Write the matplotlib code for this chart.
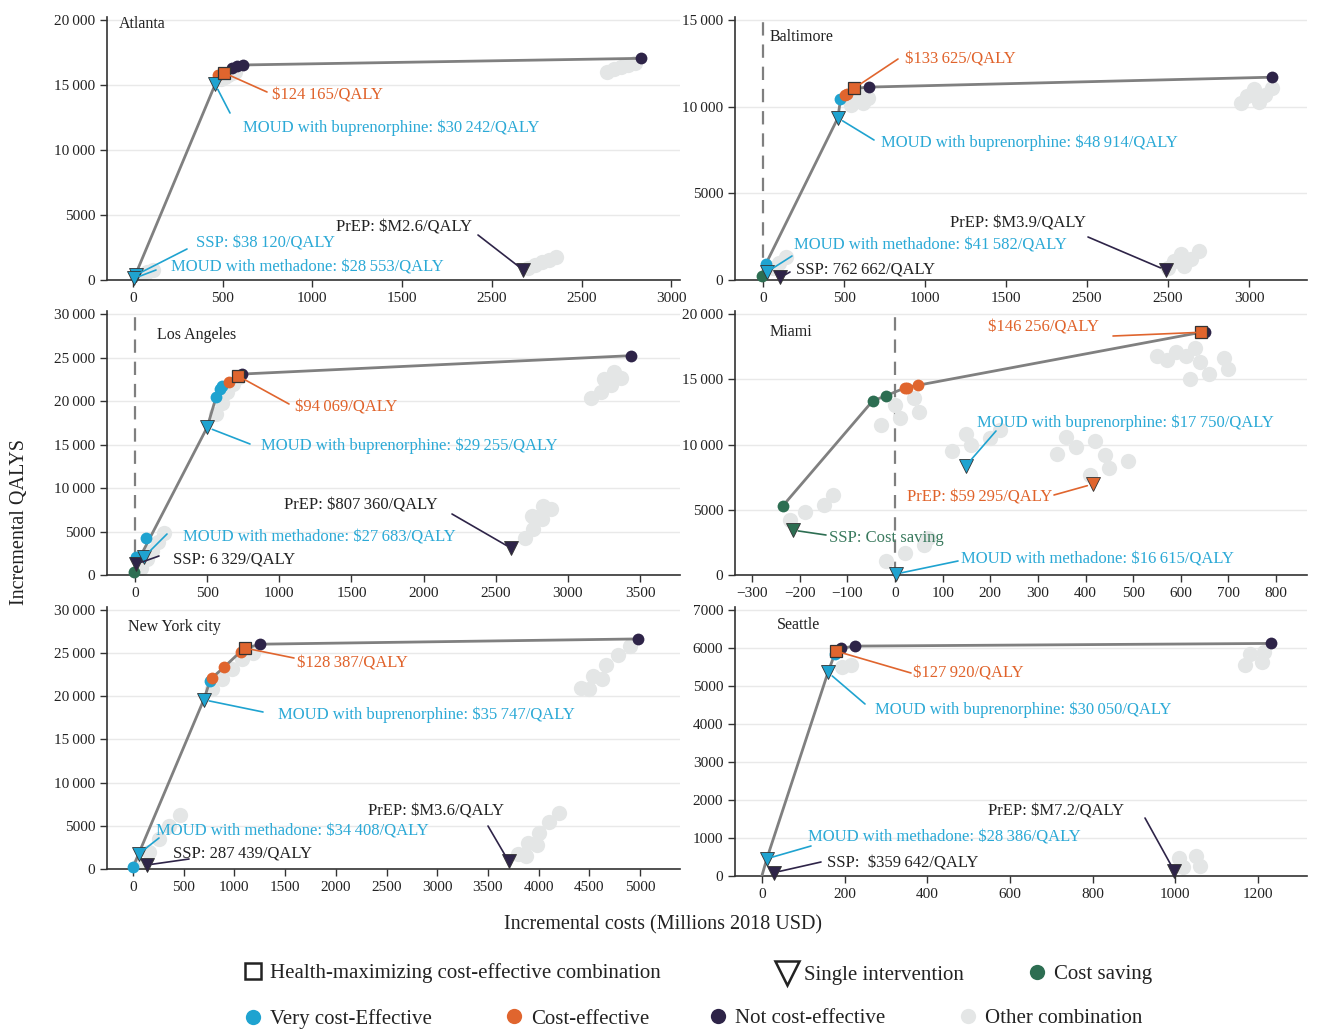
import matplotlib
matplotlib.use("Agg")
import matplotlib.pyplot as plt
from matplotlib.lines import Line2D

plt.rcParams['font.family'] = ['Liberation Serif', 'DejaVu Serif']

W, H = 1319, 1030
COL = {'vce': '#1FA3D0', 'ce': '#E0652E', 'nce': '#2E2448', 'cs': '#2D6E52', 'oth': '#E4E6E6'}
TXT = {'vce': '#2BA9D6', 'ce': '#E0622A', 'nce': '#222222', 'cs': '#3A7A5E'}

# ---------------- DATA ----------------
# Atlanta
ATL_LINE_X = [0, 5, 458, 474, 505, 550, 581, 612, 2833]
ATL_LINE_Y = [0, 120, 15050, 15770, 15950, 16280, 16490, 16540, 17050]
ATL_PT_X = [474, 550, 581, 612, 2833]
ATL_PT_Y = [15770, 16280, 16490, 16540, 17050]
ATL_PT_CAT = ['ce', 'nce', 'nce', 'nce', 'nce']
ATL_HM = (505, 15950)
ATL_SINGLE_X = [15, 5, 458, 2175]
ATL_SINGLE_Y = [380, 120, 15050, 770]
ATL_SINGLE_CAT = ['vce', 'vce', 'vce', 'nce']
ATL_OTH_X = [490, 510, 530, 550, 570, 2640, 2680, 2720, 2760, 2800, 2200, 2240, 2280, 2320, 2360, 20, 50, 80, 110]
ATL_OTH_Y = [15450, 15600, 15750, 15900, 16000, 16000, 16200, 16400, 16550, 16700, 950, 1150, 1350, 1550, 1750, 200, 400, 600, 800]

# Baltimore
BAL_LINE_X = [-5, 16, 462, 478, 503, 519, 560, 656, 3141]
BAL_LINE_Y = [250, 900, 9350, 10420, 10650, 10750, 11050, 11130, 11700]
BAL_PT_X = [-5, 16, 478, 503, 519, 656, 3141]
BAL_PT_Y = [250, 900, 10420, 10650, 10750, 11130, 11700]
BAL_PT_CAT = ['cs', 'vce', 'vce', 'ce', 'ce', 'nce', 'nce']
BAL_HM = (560, 11050)
BAL_SINGLE_X = [107, 27, 462, 2485]
BAL_SINGLE_Y = [150, 480, 9350, 575]
BAL_SINGLE_CAT = ['nce', 'vce', 'vce', 'nce']
BAL_OTH_X = [540, 570, 600, 620, 650, 2950, 2990, 3030, 3060, 3100, 3140, 2500, 2540, 2580, 2600, 2640, 2690, 60, 100, 140]
BAL_OTH_Y = [10100, 10400, 10700, 10200, 10500, 10200, 10600, 11000, 10250, 10650, 11050, 700, 1100, 1500, 800, 1200, 1700, 700, 1000, 1300]

# Los Angeles
LA_LINE_X = [-8, 10, 500, 562, 587, 603, 651, 715, 744, 3436]
LA_LINE_Y = [400, 1260, 16970, 20450, 21360, 21740, 22220, 22870, 23100, 25210]
LA_PT_X = [-8, 5, 74, 562, 587, 603, 651, 744, 3436]
LA_PT_Y = [400, 2100, 4210, 20450, 21360, 21740, 22220, 23100, 25210]
LA_PT_CAT = ['cs', 'vce', 'vce', 'vce', 'vce', 'vce', 'ce', 'nce', 'nce']
LA_HM = (715, 22870)
LA_SINGLE_X = [10, 64, 500, 2608]
LA_SINGLE_Y = [1260, 2100, 16970, 3070]
LA_SINGLE_CAT = ['nce', 'vce', 'vce', 'nce']
LA_OTH_X = [560, 600, 640, 680, 720, 3160, 3230, 3300, 3370, 3250, 3320, 2700, 2760, 2820, 2880, 2750, 2830, 40, 80, 120, 160, 200]
LA_OTH_Y = [18500, 19800, 21000, 22000, 22800, 20300, 21000, 21800, 22600, 22500, 23300, 4300, 5300, 6400, 7600, 6800, 7900, 800, 1800, 2800, 3800, 4800]

# Miami
MIA_LINE_X = [-236, -47, -18, 21, 48, 643]
MIA_LINE_Y = [5280, 13340, 13750, 14340, 14540, 18600]
MIA_PT_X = [-236, -47, -18, 21, 25, 48, 651]
MIA_PT_Y = [5280, 13340, 13750, 14340, 14340, 14540, 18650]
MIA_PT_CAT = ['cs', 'cs', 'cs', 'ce', 'ce', 'ce', 'nce']
MIA_HM = (643, 18600)
MIA_SINGLE_X = [-215, 2, 148, 415]
MIA_SINGLE_Y = [3440, 80, 8340, 6960]
MIA_SINGLE_CAT = ['cs', 'vce', 'vce', 'ce']
MIA_OTH_X = [550, 590, 630, 570, 610, 620, 660, 700, 640, 690, -30, 10, 50, 0, 40,
             120, 160, 200, 150, 220, 340, 380, 420, 360, 410, 450, 490, 440,
             -220, -190, -150, -130, -20, 20, 60, 70]
MIA_OTH_Y = [16800, 17100, 17400, 16500, 16800, 15000, 15400, 15800, 16300, 16600, 11500, 12000, 12500, 13000, 13600,
             9500, 10000, 10500, 10800, 11100, 9300, 9800, 10300, 10600, 7700, 8200, 8700, 9200,
             4200, 4800, 5400, 6100, 1100, 1700, 2300, 2800]

# New York city
NY_LINE_X = [0, 55, 698, 760, 778, 898, 1062, 1109, 1255, 4982]
NY_LINE_Y = [190, 1730, 19600, 21800, 22120, 23380, 25190, 25580, 26040, 26650]
NY_PT_X = [0, 760, 778, 898, 1062, 1255, 4982]
NY_PT_Y = [190, 21800, 22120, 23380, 25190, 26040, 26650]
NY_PT_CAT = ['vce', 'vce', 'ce', 'ce', 'ce', 'nce', 'nce']
NY_HM = (1109, 25580)
NY_SINGLE_X = [135, 55, 698, 3705]
NY_SINGLE_Y = [460, 1730, 19600, 880]
NY_SINGLE_CAT = ['nce', 'vce', 'vce', 'nce']
NY_OTH_X = [780, 880, 980, 1080, 1180, 4420, 4540, 4660, 4780, 4900, 4500, 4620,
            3800, 3900, 4000, 4100, 4200, 3880, 3980, 60, 160, 260, 360, 460]
NY_OTH_Y = [20800, 22000, 23200, 24300, 25000, 21000, 22300, 23600, 24800, 25800, 20800, 22000,
            1700, 3000, 4200, 5400, 6500, 1500, 2800, 500, 2000, 3500, 5000, 6300]

# Seattle
SEA_LINE_X = [0, 12, 160, 176, 179, 191, 225, 1231]
SEA_LINE_Y = [0, 455, 5360, 5835, 5920, 5990, 6050, 6120]
SEA_PT_X = [176, 191, 225, 1231]
SEA_PT_Y = [5835, 5990, 6050, 6120]
SEA_PT_CAT = ['vce', 'nce', 'nce', 'nce']
SEA_HM = (179, 5920)
SEA_SINGLE_X = [30, 12, 160, 998]
SEA_SINGLE_Y = [90, 455, 5360, 130]
SEA_SINGLE_CAT = ['nce', 'vce', 'vce', 'nce']
SEA_OTH_X = [195, 215, 1180, 1215, 1170, 1210, 1010, 1050, 1020, 1060]
SEA_OTH_Y = [5500, 5560, 5850, 5900, 5560, 5620, 480, 530, 230, 270]

ATL_LABELS = ['$124\u2009165/QALY', 'MOUD with buprenorphine: $30\u2009242/QALY', 'SSP: $38\u2009120/QALY',
              'MOUD with methadone: $28\u2009553/QALY', 'PrEP: $M2.6/QALY']
BAL_LABELS = ['$133\u2009625/QALY', 'MOUD with buprenorphine: $48\u2009914/QALY', 'PrEP: $M3.9/QALY',
              'MOUD with methadone: $41\u2009582/QALY', 'SSP: 762\u2009662/QALY']
LA_LABELS = ['$94\u2009069/QALY', 'MOUD with buprenorphine: $29\u2009255/QALY', 'PrEP: $807\u2009360/QALY',
             'MOUD with methadone: $27\u2009683/QALY', 'SSP: 6\u2009329/QALY']
MIA_LABELS = ['$146\u2009256/QALY', 'MOUD with buprenorphine: $17\u2009750/QALY', 'PrEP: $59\u2009295/QALY',
              'SSP: Cost saving', 'MOUD with methadone: $16\u2009615/QALY']
NY_LABELS = ['$128\u2009387/QALY', 'MOUD with buprenorphine: $35\u2009747/QALY', 'PrEP: $M3.6/QALY',
             'MOUD with methadone: $34\u2009408/QALY', 'SSP: 287\u2009439/QALY']
SEA_LABELS = ['$127\u2009920/QALY', 'MOUD with buprenorphine: $30\u2009050/QALY', 'PrEP: $M7.2/QALY',
              'MOUD with methadone: $28\u2009386/QALY', 'SSP:  $359\u2009642/QALY']

XTICKS_ATL = [0, 500, 1000, 1500, 2000, 2500, 3000]
XTICKLABELS_ATL = ['0', '500', '1000', '1500', '2500', '2500', '3000']
XTICKS_LA = [0, 500, 1000, 1500, 2000, 2500, 3000, 3500]
XTICKS_MIA = [-300, -200, -100, 0, 100, 200, 300, 400, 500, 600, 700, 800]
XTICKS_NY = [0, 500, 1000, 1500, 2000, 2500, 3000, 3500, 4000, 4500, 5000]
XTICKS_SEA = [0, 200, 400, 600, 800, 1000, 1200]
YTICKS_20K = [0, 5000, 10000, 15000, 20000]
YTICKS_15K = [0, 5000, 10000, 15000]
YTICKS_30K = [0, 5000, 10000, 15000, 20000, 25000, 30000]
YTICKS_7K = [0, 1000, 2000, 3000, 4000, 5000, 6000, 7000]


def fmt(v):
    s = str(abs(int(v)))
    if len(s) >= 5:
        s = s[:-3] + '\u2009' + s[-3:]
    return ('\u2212' + s) if v < 0 else s


fig = plt.figure(figsize=(W / 100, H / 100), dpi=100)


def make_ax(l, t, r, b):
    return fig.add_axes([l / W, 1 - b / H, (r - l) / W, (b - t) / H])


def fp(x, y):
    return (x / W, 1 - y / H)


def panel(ax, name, name_px, line_x, line_y, pt_x, pt_y, pt_cat, hm, sx, sy, scat, ox, oy,
          xlim, ylim, xticks, xticklabels, yticks, dashed, labels, label_px, label_cat, label_target, leader_px):
    ax.set_xlim(*xlim)
    ax.set_ylim(*ylim)
    for s in ['top', 'right']:
        ax.spines[s].set_visible(False)
    for s in ['left', 'bottom']:
        ax.spines[s].set_color('#333333')
        ax.spines[s].set_linewidth(1.2)
    ax.set_yticks(yticks)
    ax.set_yticklabels([fmt(v) for v in yticks])
    ax.set_xticks(xticks)
    ax.set_xticklabels(xticklabels if xticklabels else [fmt(v) for v in xticks])
    ax.tick_params(labelsize=11, length=5, width=1, color='#333333', labelcolor='#222222')
    ax.grid(axis='y', color='#E9E9E9', lw=1)
    ax.set_axisbelow(True)
    if dashed:
        ax.axvline(0, color='#7F7F7F', lw=1.6, ls=(0, (6, 4)), zorder=1)
    ax.plot(ox, oy, 'o', ms=11, color=COL['oth'], mec='none', zorder=2)
    ax.plot(line_x, line_y, '-', color='#808080', lw=2, zorder=3)
    for x, y, c in zip(pt_x, pt_y, pt_cat):
        ax.plot(x, y, 'o', ms=8.5, color=COL[c], mec='none', zorder=4, clip_on=False)
    for x, y, c in zip(sx, sy, scat):
        ax.plot(x, y, 'v', ms=10.5, color=COL[c], mec='#333333', mew=0.6, zorder=5, clip_on=False)
    ax.plot(hm[0], hm[1], 's', ms=8, color=COL['ce'], mec='#333333', mew=0.9, zorder=6)
    fig.text(*fp(*name_px), name, fontsize=11.5, color='#222222', va='center', ha='left')
    for lab, lp, lc, tgt, ld in zip(labels, label_px, label_cat, label_target, leader_px):
        fig.text(*fp(*lp), lab, fontsize=12, color=TXT[lc], va='center', ha='left')
        lcol = COL[lc]
        ax.annotate('', xy=tgt, xycoords='data', xytext=fp(*ld), textcoords='figure fraction',
                    arrowprops=dict(arrowstyle='-', color=lcol, lw=1.2, shrinkA=0, shrinkB=4), zorder=7)


# Atlanta
ax = make_ax(107, 17, 680, 280)
panel(ax, 'Atlanta', (119, 24), ATL_LINE_X, ATL_LINE_Y, ATL_PT_X, ATL_PT_Y, ATL_PT_CAT, ATL_HM,
      ATL_SINGLE_X, ATL_SINGLE_Y, ATL_SINGLE_CAT, ATL_OTH_X, ATL_OTH_Y,
      (-145, 3049), (0, 20230), XTICKS_ATL, XTICKLABELS_ATL, YTICKS_20K, False,
      ATL_LABELS, [(272, 96), (243, 128), (196, 243), (171, 267), (336, 228)],
      ['ce', 'vce', 'vce', 'vce', 'nce'],
      [ATL_HM, (ATL_SINGLE_X[2], ATL_SINGLE_Y[2]), (ATL_SINGLE_X[0], ATL_SINGLE_Y[0]),
       (ATL_SINGLE_X[1], ATL_SINGLE_Y[1]), (ATL_SINGLE_X[3], ATL_SINGLE_Y[3])],
      [(267, 92), (230, 113), (187, 249), (156, 270), (478, 235)])

# Baltimore
ax = make_ax(735, 17, 1307, 280)
panel(ax, 'Baltimore', (770, 37), BAL_LINE_X, BAL_LINE_Y, BAL_PT_X, BAL_PT_Y, BAL_PT_CAT, BAL_HM,
      BAL_SINGLE_X, BAL_SINGLE_Y, BAL_SINGLE_CAT, BAL_OTH_X, BAL_OTH_Y,
      (-173, 3358), (0, 15173), XTICKS_ATL, XTICKLABELS_ATL, YTICKS_15K, True,
      BAL_LABELS, [(905, 59), (881, 143), (950, 223), (794, 246), (796, 269)],
      ['ce', 'vce', 'nce', 'vce', 'nce'],
      [BAL_HM, (BAL_SINGLE_X[2], BAL_SINGLE_Y[2]), (BAL_SINGLE_X[3], BAL_SINGLE_Y[3]),
       (BAL_SINGLE_X[1], BAL_SINGLE_Y[1]), (BAL_SINGLE_X[0], BAL_SINGLE_Y[0])],
      [(898, 59), (874, 140), (1088, 237), (792, 256), (790, 272)])

# Los Angeles
ax = make_ax(107, 311, 680, 575)
panel(ax, 'Los Angeles', (157, 335), LA_LINE_X, LA_LINE_Y, LA_PT_X, LA_PT_Y, LA_PT_CAT, LA_HM,
      LA_SINGLE_X, LA_SINGLE_Y, LA_SINGLE_CAT, LA_OTH_X, LA_OTH_Y,
      (-194, 3777), (0, 30345), XTICKS_LA, None, YTICKS_30K, True,
      LA_LABELS, [(295, 408), (261, 446), (284, 506), (183, 538), (173, 559)],
      ['ce', 'vce', 'nce', 'vce', 'nce'],
      [LA_HM, (LA_SINGLE_X[2], LA_SINGLE_Y[2]), (LA_SINGLE_X[3], LA_SINGLE_Y[3]),
       (LA_SINGLE_X[1], LA_SINGLE_Y[1]), (LA_SINGLE_X[0], LA_SINGLE_Y[0])],
      [(289, 404), (250, 444), (452, 514), (167, 534), (159, 556)])

# Miami
ax = make_ax(735, 311, 1307, 575)
panel(ax, 'Miami', (770, 332), MIA_LINE_X, MIA_LINE_Y, MIA_PT_X, MIA_PT_Y, MIA_PT_CAT, MIA_HM,
      MIA_SINGLE_X, MIA_SINGLE_Y, MIA_SINGLE_CAT, MIA_OTH_X, MIA_OTH_Y,
      (-336, 865), (0, 20230), XTICKS_MIA, None, YTICKS_20K, True,
      MIA_LABELS, [(988, 328), (977, 423), (907, 497), (829, 538), (961, 559)],
      ['ce', 'vce', 'ce', 'cs', 'vce'],
      [MIA_HM, (MIA_SINGLE_X[2], MIA_SINGLE_Y[2]), (MIA_SINGLE_X[3], MIA_SINGLE_Y[3]),
       (MIA_SINGLE_X[0], MIA_SINGLE_Y[0]), (MIA_SINGLE_X[1], MIA_SINGLE_Y[1])],
      [(1113, 336), (996, 431), (1054, 495), (826, 535), (958, 561)])

# New York city
ax = make_ax(107, 607, 680, 869)
panel(ax, 'New York city', (128, 627), NY_LINE_X, NY_LINE_Y, NY_PT_X, NY_PT_Y, NY_PT_CAT, NY_HM,
      NY_SINGLE_X, NY_SINGLE_Y, NY_SINGLE_CAT, NY_OTH_X, NY_OTH_Y,
      (-256, 5394), (0, 30347), XTICKS_NY, None, YTICKS_30K, False,
      NY_LABELS, [(297, 663), (278, 715), (368, 812), (156, 832), (173, 854)],
      ['ce', 'vce', 'nce', 'vce', 'nce'],
      [NY_HM, (NY_SINGLE_X[2], NY_SINGLE_Y[2]), (NY_SINGLE_X[3], NY_SINGLE_Y[3]),
       (NY_SINGLE_X[1], NY_SINGLE_Y[1]), (NY_SINGLE_X[0], NY_SINGLE_Y[0])],
      [(294, 658), (263, 712), (488, 826), (159, 838), (189, 859)])

# Seattle
ax = make_ax(735, 607, 1307, 876)
panel(ax, 'Seattle', (777, 625), SEA_LINE_X, SEA_LINE_Y, SEA_PT_X, SEA_PT_Y, SEA_PT_CAT, SEA_HM,
      SEA_SINGLE_X, SEA_SINGLE_Y, SEA_SINGLE_CAT, SEA_OTH_X, SEA_OTH_Y,
      (-65, 1319), (0, 7079), XTICKS_SEA, None, YTICKS_7K, False,
      SEA_LABELS, [(913, 673), (875, 710), (988, 812), (808, 838), (827, 864)],
      ['ce', 'vce', 'nce', 'vce', 'nce'],
      [SEA_HM, (SEA_SINGLE_X[2], SEA_SINGLE_Y[2]), (SEA_SINGLE_X[3], SEA_SINGLE_Y[3]),
       (SEA_SINGLE_X[1], SEA_SINGLE_Y[1]), (SEA_SINGLE_X[0], SEA_SINGLE_Y[0])],
      [(911, 673), (865, 704), (1145, 818), (811, 846), (821, 862)])

# axis titles
fig.text(*fp(663, 925), 'Incremental costs (Millions 2018 USD)', fontsize=14.5, color='#222222',
         ha='center', va='center')
fig.text(*fp(20, 522), 'Incremental QALYS', fontsize=14.5, color='#222222', ha='center', va='center',
         rotation=90)

# legend
LEG_ENTRIES = [
    ('Health-maximizing cost-effective combination', dict(marker='s', ms=11, mfc='none', mec='#222222', mew=1.8), (243, 973)),
    ('Single intervention', dict(marker='v', ms=17, mfc='none', mec='#222222', mew=1.8), (777, 975)),
    ('Cost saving', dict(marker='o', ms=11, mfc=COL['cs'], mec='none'), (1027, 974)),
    ('Very cost-Effective', dict(marker='o', ms=11, mfc=COL['vce'], mec='none'), (243, 1019)),
    ('Cost-effective', dict(marker='o', ms=11, mfc=COL['ce'], mec='none'), (504, 1019)),
    ('Not cost-effective', dict(marker='o', ms=11, mfc=COL['nce'], mec='none'), (708, 1018)),
    ('Other combination', dict(marker='o', ms=11, mfc=COL['oth'], mec='none'), (958, 1018)),
]
for lab, mk, pos in LEG_ENTRIES:
    h = Line2D([], [], ls='none', **mk)
    fig.legend(handles=[h], labels=[lab], loc='center left', bbox_to_anchor=fp(*pos), frameon=False,
               fontsize=15, handlelength=1.0, handletextpad=0.3, borderpad=0, borderaxespad=0,
               labelcolor='#222222')

fig.savefig('out.png', dpi=100)
